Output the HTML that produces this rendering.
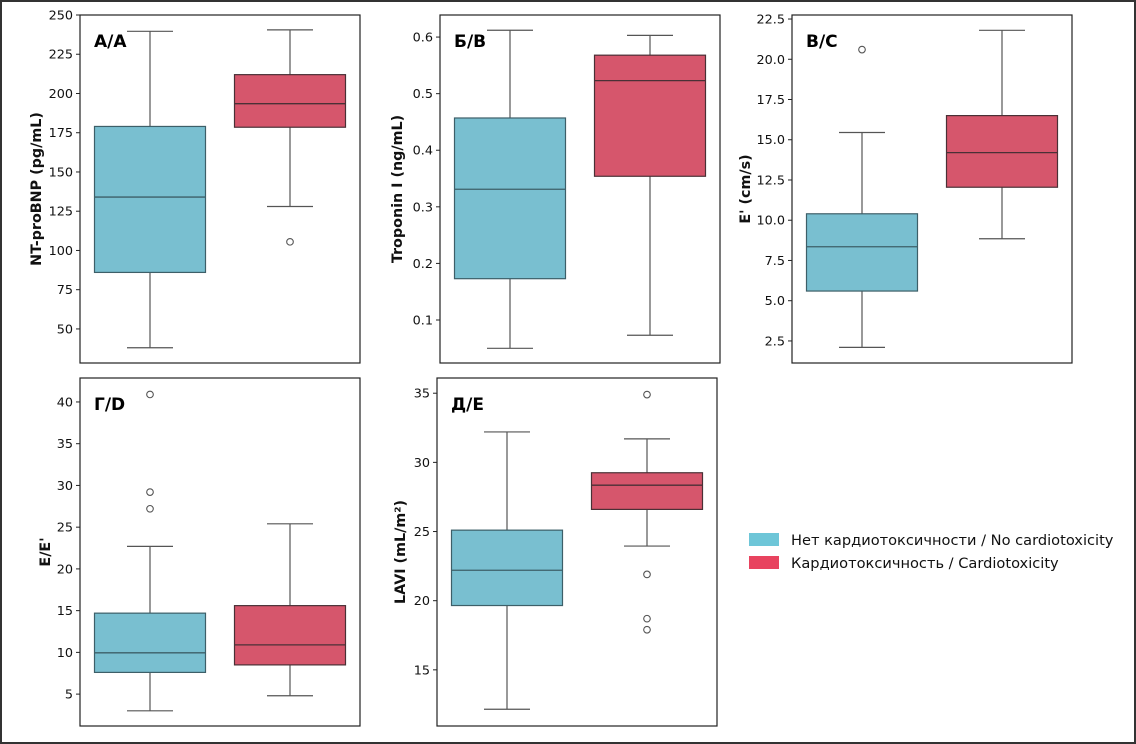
<!DOCTYPE html>
<html><head><meta charset="utf-8"><style>
html,body{margin:0;padding:0;background:#fff}
svg{display:block;font-family:"DejaVu Sans","Liberation Sans",sans-serif}
</style></head><body>
<svg id="fig" width="1136" height="744" viewBox="0 0 1136 744" xmlns="http://www.w3.org/2000/svg">
<rect x="1" y="1" width="1134" height="742" fill="#fff" stroke="#333" stroke-width="2"/>
<g>
<rect x="749" y="533" width="30" height="13" fill="#6ec6d8"/>
<text x="791" y="545" font-size="14.6" fill="#111">Нет кардиотоксичности / No cardiotoxicity</text>
<rect x="749" y="556" width="30" height="13" fill="#e8435f"/>
<text x="791" y="568" font-size="14.6" fill="#111">Кардиотоксичность / Cardiotoxicity</text>
</g>
</svg>
<script>
// Panel data: [whiskerLow, q1, median, q3, whiskerHigh]
const panelLabels = ["А/A","Б/B","В/C","Г/D","Д/E"];
const yTitles = ["NT-proBNP (pg/mL)","Troponin I (ng/mL)","E' (cm/s)","E/E'","LAVI (mL/m²)"];
const noCardioStats = [[38,86,134,179,239.6],[0.05,0.173,0.331,0.457,0.612],[2.1,5.6,8.35,10.4,15.45],[3.0,7.6,9.95,14.7,22.7],[12.15,19.65,22.2,25.1,32.2]];
const cardioStats = [[128,178.5,193.5,212,240.5],[0.073,0.354,0.523,0.568,0.603],[8.85,12.05,14.2,16.5,21.8],[4.8,8.5,10.9,15.6,25.4],[23.95,26.6,28.35,29.25,31.7]];
const noCardioOutliers = [[],[],[20.6],[40.9,29.2,27.2],[]];
const cardioOutliers = [[105.5],[],[],[],[34.9,21.9,18.7,17.9]];
const yDomains = [[28.3,250],[0.024,0.639],[1.13,22.75],[1.18,42.87],[10.94,36.1]];
const yTicks = [[50,75,100,125,150,175,200,225,250],[0.1,0.2,0.3,0.4,0.5,0.6],[2.5,5,7.5,10,12.5,15,17.5,20,22.5],[5,10,15,20,25,30,35,40],[15,20,25,30,35]];
const tickFormats = [0,1,1,0,0];

const layout = [[80,15],[440,15],[792,15],[80,378],[437,378]];
const titleOffsets = [39,38,42,30,32];
const W=280,H=348;
const svg=document.getElementById('fig');
const NS='http://www.w3.org/2000/svg';
function mk(tag,attrs,parent){const e=document.createElementNS(NS,tag);for(const k in attrs)e.setAttribute(k,attrs[k]);parent.appendChild(e);return e;}
const fills=['#79bfd0','#d6566c'];
const edges=['#3d5f68','#4a3036'];
for(let p=0;p<5;p++){
  const [ax,ay]=layout[p];
  const [d0,d1]=yDomains[p];
  const y=v=>ay+H-(v-d0)/(d1-d0)*H;
  const g=mk('g',{},svg);
  
  
  yTicks[p].forEach(t=>{
    const ty=y(t);
    const tl=mk('line',{x1:ax-4,x2:ax,y1:ty,y2:ty,stroke:'#222','stroke-width':1},g);
    
    
    const tx=mk('text',{x:ax-7,y:ty+4.5,'font-size':12.8,'text-anchor':'end',fill:'#111'},g);
    
    
    tx.textContent=t.toFixed(tickFormats[p]);
  });
  const yt=mk('text',{x:0,y:0,'font-size':14.3,'font-weight':'bold','text-anchor':'middle',fill:'#111',transform:`translate(${ax-titleOffsets[p]},${ay+H/2}) rotate(-90)`},g);
  
  
  yt.textContent=yTitles[p];
  const groups=[[noCardioStats[p],noCardioOutliers[p]],[cardioStats[p],cardioOutliers[p]]];
  groups.forEach(([s,outs],i)=>{
    const cx=ax+70+i*140;
    const bw=111,cw=46;
    const bg=mk('g',{},g);
    
    
    const wc='#555';
    mk('line',{x1:cx,x2:cx,y1:y(s[0]),y2:y(s[1]),stroke:wc,'stroke-width':1.2},bg);
    mk('line',{x1:cx,x2:cx,y1:y(s[3]),y2:y(s[4]),stroke:wc,'stroke-width':1.2},bg);
    mk('line',{x1:cx-cw/2,x2:cx+cw/2,y1:y(s[0]),y2:y(s[0]),stroke:wc,'stroke-width':1.2},bg);
    mk('line',{x1:cx-cw/2,x2:cx+cw/2,y1:y(s[4]),y2:y(s[4]),stroke:wc,'stroke-width':1.2},bg);
    mk('rect',{x:cx-bw/2,y:y(s[3]),width:bw,height:y(s[1])-y(s[3]),fill:fills[i],stroke:edges[i],'stroke-width':1.2},bg);
    mk('line',{x1:cx-bw/2,x2:cx+bw/2,y1:y(s[2]),y2:y(s[2]),stroke:edges[i],'stroke-width':1.3},bg);
    outs.forEach(o=>{
      const c=mk('circle',{cx:cx,cy:y(o),r:3.3,fill:'none',stroke:'#555','stroke-width':1.1},bg);
      
      
    });
  });
  const fr=mk('rect',{x:ax,y:ay,width:W,height:H,fill:'none',stroke:'#222','stroke-width':1.2},g);
  
  
  const pl=mk('text',{x:ax+14,y:ay+32,'font-size':17,'font-weight':'bold',fill:'#000'},g);
  
  
  pl.textContent=panelLabels[p];
}
</script>
</body></html>
